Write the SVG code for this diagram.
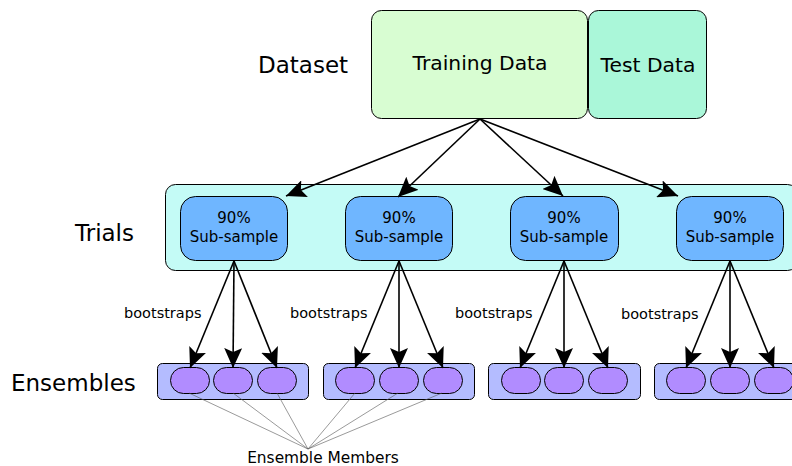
<svg xmlns="http://www.w3.org/2000/svg" width="792" height="466" viewBox="0 0 792 466">
<style>
text{font-family:"DejaVu Sans","Liberation Sans",sans-serif;fill:#000}
.big{font-size:23px}
.mid{font-size:20.3px;text-anchor:middle}
.sm{font-size:15px;text-anchor:middle}
.lbl{font-size:14.5px}
.em{font-size:15.4px;text-anchor:middle}
.box{stroke:#000;stroke-width:1}
.arr{stroke:#000;stroke-width:1.6;fill:none;marker-end:url(#ah)}
.thin{stroke:#555;stroke-width:0.6;fill:none}
</style>
<defs>
<marker id="ah" markerUnits="userSpaceOnUse" markerWidth="22" markerHeight="18" viewBox="0 0 22 18" refX="20" refY="9" orient="auto">
<path d="M0,0 L20,9 L0,18 L4,9 Z" fill="#000"/>
</marker>
</defs>
<g id="labels">
<text class="big" x="258" y="73">Dataset</text>
<text class="big" x="75" y="241">Trials</text>
<text class="big" x="11" y="391">Ensembles</text>
</g>
<g id="training-data">
<rect class="box" x="371.5" y="10.5" width="216" height="108" rx="10" fill="#d8fdd2"/>
<text class="mid" x="480" y="70">Training Data</text>
</g>
<g id="test-data">
<rect class="box" x="588.5" y="10.5" width="118" height="108" rx="10" fill="#aaf7d9"/>
<text class="mid" x="648" y="72">Test Data</text>
</g>
<g id="trials">
<rect class="box" x="165.5" y="184.5" width="632" height="86" rx="10" fill="#c4fbf6"/>
</g>
<g id="sub1"><rect class="box" x="180.5" y="196.5" width="107" height="64" rx="15" fill="#6fb6ff"/><text class="sm" x="234" y="223">90%</text><text class="sm" x="234" y="242">Sub-sample</text></g>
<g id="sub2"><rect class="box" x="345.5" y="196.5" width="107" height="64" rx="15" fill="#6fb6ff"/><text class="sm" x="399" y="223">90%</text><text class="sm" x="399" y="242">Sub-sample</text></g>
<g id="sub3"><rect class="box" x="510.5" y="196.5" width="108" height="64" rx="15" fill="#6fb6ff"/><text class="sm" x="564" y="223">90%</text><text class="sm" x="564" y="242">Sub-sample</text></g>
<g id="sub4"><rect class="box" x="676.5" y="196.5" width="107" height="64" rx="15" fill="#6fb6ff"/><text class="sm" x="730" y="223">90%</text><text class="sm" x="730" y="242">Sub-sample</text></g>
<g id="ens1"><rect class="box" x="157.5" y="363.5" width="151" height="36" rx="5" fill="#b4bcff"/>
<rect class="box" x="170.5" y="367.5" width="39" height="26" rx="13" fill="#b18cff"/>
<rect class="box" x="213.5" y="367.5" width="39" height="26" rx="13" fill="#b18cff"/>
<rect class="box" x="257.5" y="367.5" width="39" height="26" rx="13" fill="#b18cff"/></g>
<g id="ens2"><rect class="box" x="323.5" y="363.5" width="151" height="36" rx="5" fill="#b4bcff"/>
<rect class="box" x="335.5" y="367.5" width="39" height="26" rx="13" fill="#b18cff"/>
<rect class="box" x="379.5" y="367.5" width="39" height="26" rx="13" fill="#b18cff"/>
<rect class="box" x="423.5" y="367.5" width="39" height="26" rx="13" fill="#b18cff"/></g>
<g id="ens3"><rect class="box" x="488.5" y="363.5" width="152" height="36" rx="5" fill="#b4bcff"/>
<rect class="box" x="501.5" y="367.5" width="39" height="26" rx="13" fill="#b18cff"/>
<rect class="box" x="544.5" y="367.5" width="39" height="26" rx="13" fill="#b18cff"/>
<rect class="box" x="588.5" y="367.5" width="39" height="26" rx="13" fill="#b18cff"/></g>
<g id="ens4"><rect class="box" x="654.5" y="363.5" width="150" height="36" rx="5" fill="#b4bcff"/>
<rect class="box" x="666.5" y="367.5" width="39" height="26" rx="13" fill="#b18cff"/>
<rect class="box" x="710.5" y="367.5" width="39" height="26" rx="13" fill="#b18cff"/>
<rect class="box" x="754.5" y="367.5" width="39" height="26" rx="13" fill="#b18cff"/></g>
<g id="connectors">
<line class="arr" x1="480" y1="119" x2="286" y2="196"/>
<line class="arr" x1="480" y1="119" x2="398" y2="197"/>
<line class="arr" x1="480" y1="119" x2="563" y2="196"/>
<line class="arr" x1="480" y1="119" x2="678" y2="196"/>
<line class="arr" x1="234" y1="261" x2="190" y2="368"/>
<line class="arr" x1="234" y1="261" x2="233" y2="368"/>
<line class="arr" x1="234" y1="261" x2="277" y2="368"/>
<line class="arr" x1="399" y1="261" x2="355" y2="368"/>
<line class="arr" x1="399" y1="261" x2="399" y2="368"/>
<line class="arr" x1="399" y1="261" x2="443" y2="368"/>
<line class="arr" x1="564" y1="261" x2="520" y2="368"/>
<line class="arr" x1="564" y1="261" x2="564" y2="368"/>
<line class="arr" x1="564" y1="261" x2="608" y2="368"/>
<line class="arr" x1="730" y1="261" x2="686" y2="368"/>
<line class="arr" x1="730" y1="261" x2="730" y2="368"/>
<line class="arr" x1="730" y1="261" x2="774" y2="368"/>
<line class="thin" x1="308" y1="449" x2="189" y2="393"/>
<line class="thin" x1="308" y1="449" x2="233" y2="393"/>
<line class="thin" x1="308" y1="449" x2="277" y2="393"/>
<line class="thin" x1="308" y1="449" x2="355" y2="393"/>
<line class="thin" x1="308" y1="449" x2="398" y2="393"/>
<line class="thin" x1="308" y1="449" x2="442" y2="393"/>
</g>
<g id="edge-labels">
<text class="lbl" x="124" y="318">bootstraps</text>
<text class="lbl" x="290" y="318">bootstraps</text>
<text class="lbl" x="455" y="318">bootstraps</text>
<text class="lbl" x="621" y="319">bootstraps</text>
<text class="em" x="323" y="463">Ensemble Members</text>
</g>
</svg>
